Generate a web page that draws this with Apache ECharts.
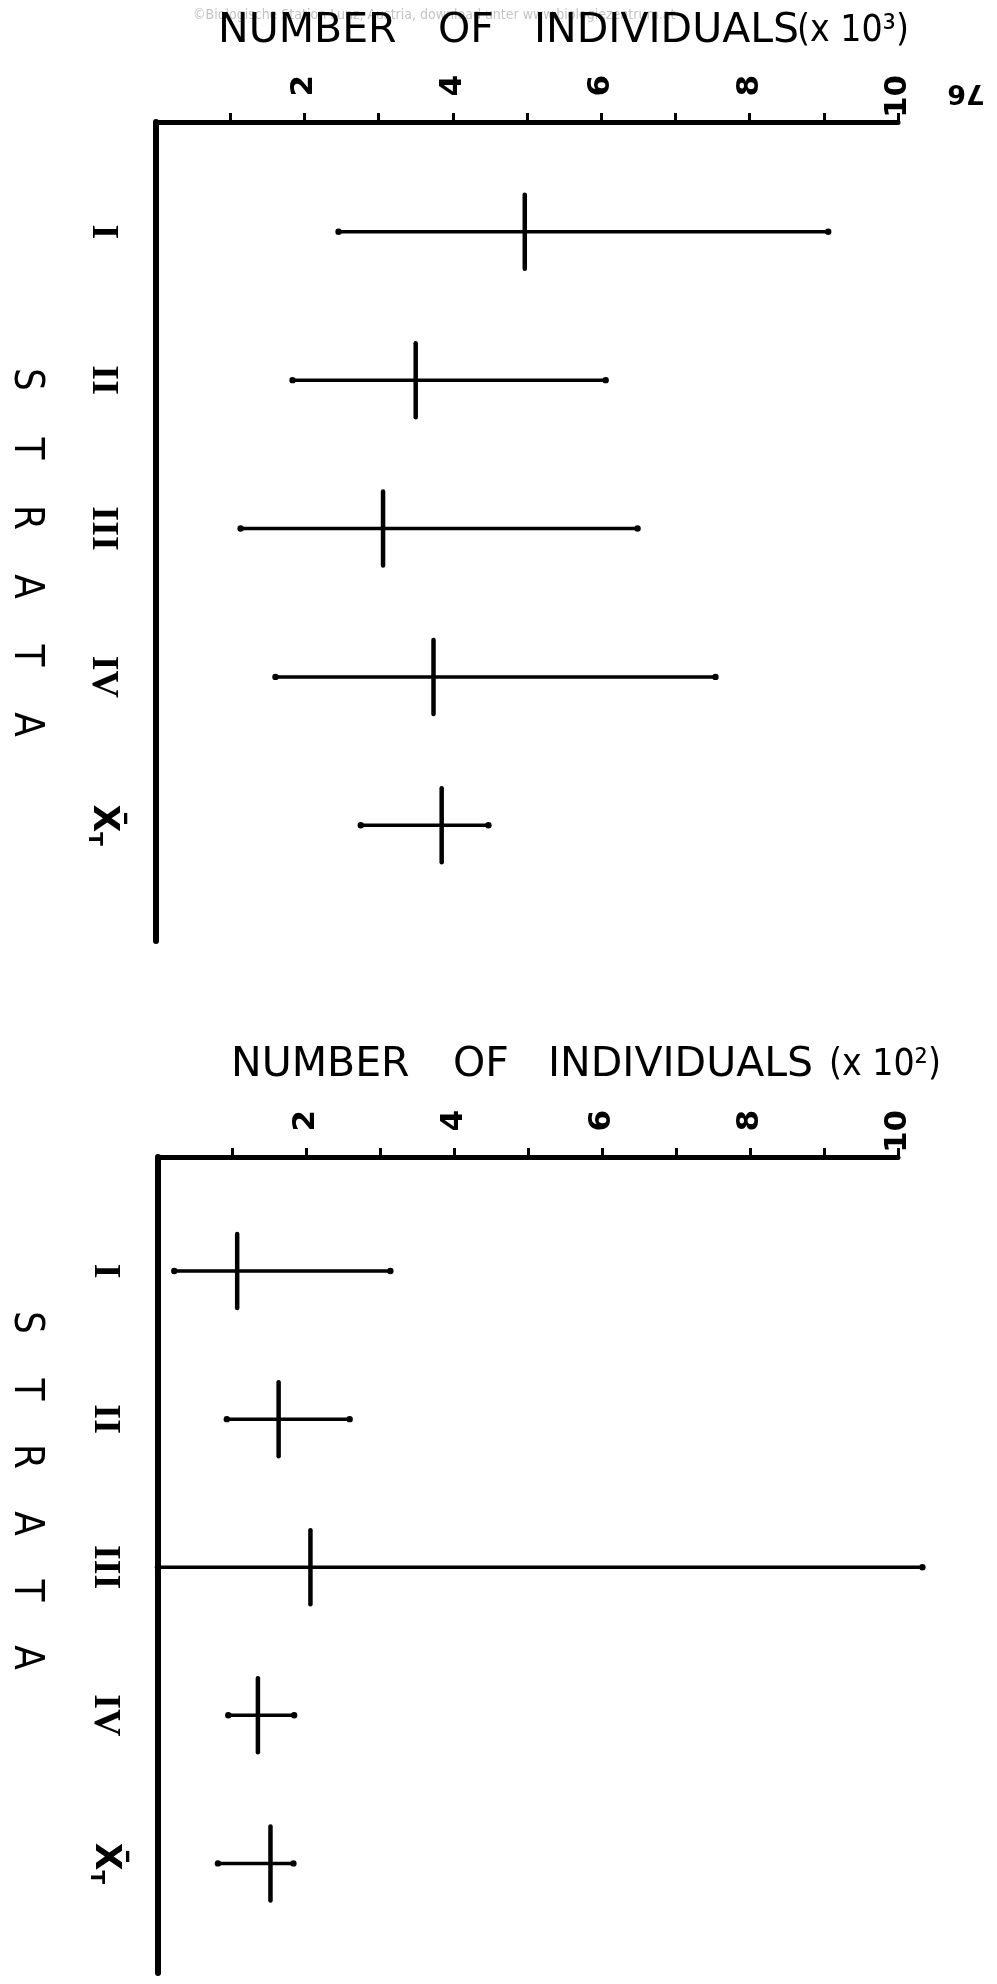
<!DOCTYPE html>
<html>
<head>
<meta charset="utf-8">
<script src="https://cdn.jsdelivr.net/npm/echarts@6/dist/echarts.min.js"></script>
<style>html,body{margin:0;padding:0;background:#fff}#c{width:997px;height:1984px}</style>
</head>
<body>
<div id="c"></div>
<script>
// ---- data ----
const strata = ['I', 'II', 'III', 'IV', 'XT'];
const xTickValues = [1, 2, 3, 4, 5, 6, 7, 8, 9, 10];
const xLabelValues = [2, 4, 6, 8, 10];
// upper panel (x 10^3)
const topLow  = [2.46, 1.84, 1.14, 1.61, 2.76];
const topMean = [4.97, 3.50, 3.06, 3.74, 3.85];
const topHigh = [9.06, 6.06, 6.49, 7.54, 4.48];
// lower panel (x 10^2)
const botLow  = [0.22, 0.93, 0.00, 0.95, 0.81];
const botMean = [1.07, 1.63, 2.06, 1.35, 1.52];
const botHigh = [3.14, 2.59, 10.33, 1.84, 1.83];

const SANS = '"DejaVu Sans",sans-serif';
const SANSC = '"DejaVu Sans Condensed","DejaVu Sans",sans-serif';
const SERIF = '"Liberation Serif","DejaVu Serif",serif';

function rows(lo, me, hi) { return strata.map((s, i) => [i, lo[i], me[i], hi[i]]); }

function renderBar(params, api) {
  const y = api.value(0);
  const pLo = api.coord([api.value(1), y]);
  const pMe = api.coord([api.value(2), y]);
  const pHi = api.coord([api.value(3), y]);
  const half = 37;
  return {
    type: 'group',
    children: [
      { type: 'line', shape: { x1: pLo[0], y1: pLo[1], x2: pHi[0], y2: pHi[1] },
        style: { stroke: '#000', lineWidth: 3.5, lineCap: 'round' } },
      { type: 'line', shape: { x1: pMe[0], y1: pMe[1] - half, x2: pMe[0], y2: pMe[1] + half },
        style: { stroke: '#000', lineWidth: 4.5, lineCap: 'round' } },
      { type: 'circle', shape: { cx: pLo[0], cy: pLo[1], r: 3.2 }, style: { fill: '#000' } },
      { type: 'circle', shape: { cx: pHi[0], cy: pHi[1], r: 3.2 }, style: { fill: '#000' } }
    ]
  };
}

function xAxisFor(gi) {
  return {
    gridIndex: gi, type: 'value', position: 'top', min: 0, max: 10,
    axisLine: { show: true, onZero: false, lineStyle: { color: '#000', width: 5, cap: 'round' } },
    axisTick: { show: true, inside: false, length: 9, customValues: xTickValues, lineStyle: { color: '#000', width: 3 } },
    axisLabel: { show: true, customValues: xLabelValues, rotate: -90, margin: 4,
      color: '#000', fontSize: 31, fontWeight: 'bold', fontFamily: SANS,
      formatter: v => v < 10 ? '\u2007' + v : String(v) },
    splitLine: { show: false }
  };
}
function yAxisFor(gi, mn, mx) {
  return {
    gridIndex: gi, type: 'value', inverse: true, min: mn, max: mx,
    axisLine: { show: true, onZero: false, lineStyle: { color: '#000', width: 6, cap: 'round' } },
    axisTick: { show: false },
    splitLine: { show: false },
    axisLabel: {
      show: true, customValues: [0, 1, 2, 3, 4], rotate: -90, margin: 34, color: '#000',
      fontSize: 38, fontWeight: 'bold', fontFamily: SERIF,
      formatter: v => v === 4 ? '{x|X\u0304}{t|T}' : strata[v],
      rich: {
        x: { fontSize: 36, fontWeight: 'bold', fontFamily: SANS, color: '#000' },
        t: { fontSize: 20, fontWeight: 'bold', fontFamily: SANS, color: '#000', padding: [18, 0, 0, 0] }
      }
    }
  };
}

function strataText(cy, pitch) {
  const letters = ['S', 'T', 'R', 'A', 'T', 'A'];
  return {
    type: 'text', x: 25, y: cy, rotation: -Math.PI / 2,
    style: {
      text: letters.map(l => '{l|' + l + '}').join(''),
      align: 'center', verticalAlign: 'middle',
      rich: { l: { width: pitch, align: 'center', fontSize: 40, fontFamily: SANSC, fill: '#000', color: '#000' } }
    }
  };
}

function axisTitle(left, top, widths, sup) {
  const base = { align: 'left', fontSize: 41, fontWeight: 'normal', fontFamily: SANS, color: '#000' };
  return {
    text: '{a|NUMBER}{b|OF}{c|INDIVIDUALS}{d|(x 10' + sup + ')}',
    left: left, top: top, padding: 0,
    textStyle: {
      fontWeight: 'normal',
      rich: {
        a: Object.assign({ width: widths[0] }, base),
        b: Object.assign({ width: widths[1] }, base),
        c: Object.assign({ width: widths[2] }, base),
        d: { fontSize: 37, fontWeight: 'normal', fontFamily: SANSC, color: '#000' }
      }
    }
  };
}

const chart = echarts.init(document.getElementById('c'), null, { renderer: 'canvas' });
chart.setOption({
  backgroundColor: '#fff',
  animation: false,
  title: [
    { text: '\u00a9Biologische Station Lunz, Austria, download unter www.biologiezentrum.at',
      left: 193, top: 8, padding: 0,
      textStyle: { fontSize: 14, fontWeight: 'normal', color: '#c4c4c4', fontFamily: SANSC } },
    axisTitle(218, 11, [220, 96, 263], '\u00b3'),
    axisTitle(231, 1045, [222, 95, 281], '\u00b2')
  ],
  grid: [
    { left: 156, top: 122, width: 742, height: 819 },
    { left: 158, top: 1157, width: 740, height: 816 }
  ],
  xAxis: [xAxisFor(0), xAxisFor(1)],
  yAxis: [yAxisFor(0, -0.74, 4.78), yAxisFor(1, -0.77, 4.74)],
  series: [
    { type: 'custom', xAxisIndex: 0, yAxisIndex: 0, clip: false, renderItem: renderBar,
      encode: { x: [1, 2, 3], y: 0 }, data: rows(topLow, topMean, topHigh) },
    { type: 'custom', xAxisIndex: 1, yAxisIndex: 1, clip: false, renderItem: renderBar,
      encode: { x: [1, 2, 3], y: 0 }, data: rows(botLow, botMean, botHigh) }
  ],
  graphic: [
    strataText(552, 69),
    strataText(1490, 67),
    { type: 'text', x: 966, y: 92, rotation: Math.PI,
      style: { text: '76', align: 'center', verticalAlign: 'middle', fontSize: 27, fontWeight: 'bold', fontFamily: SANS, fill: '#000' } }
  ]
});
</script>
</body>
</html>
